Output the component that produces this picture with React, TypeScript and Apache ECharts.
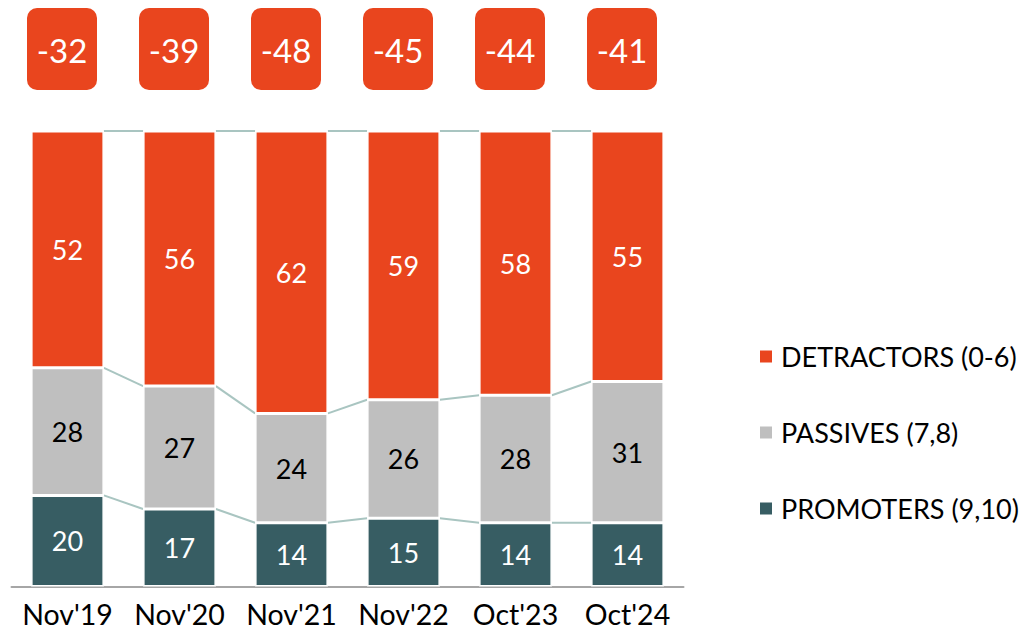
import React, { useEffect, useRef } from "react";
import * as echarts from "echarts";

const categories = ["Nov'19", "Nov'20", "Nov'21", "Nov'22", "Oct'23", "Oct'24"];
const promoters = [20, 17, 14, 15, 14, 14];
const passives = [28, 27, 24, 26, 28, 31];
const detractors = [52, 56, 62, 59, 58, 55];
const npsScores = [-32, -39, -48, -45, -44, -41];
const seriesNames = ["DETRACTORS (0-6)", "PASSIVES (7,8)", "PROMOTERS (9,10)"];

const ORANGE = "#E9451E";
const GREY = "#BFBFBF";
const TEAL = "#375D63";
const LINK = "#A9C5C1";
const FONT = "Lato";
const BAR_RATIO = 0.65;

export default function App() {
  const ref = useRef<HTMLDivElement>(null);
  useEffect(() => {
    document.body.style.margin = "0";
    const chart = echarts.init(ref.current!, null, { renderer: "svg" });

    const connectorData: number[][] = [];
    for (let i = 0; i < categories.length - 1; i++) {
      connectorData.push([i, promoters[i], promoters[i + 1]]);
      connectorData.push([i, promoters[i] + passives[i], promoters[i + 1] + passives[i + 1]]);
      connectorData.push([
        i,
        promoters[i] + passives[i] + detractors[i],
        promoters[i + 1] + passives[i + 1] + detractors[i + 1],
      ]);
    }

    const barBase = {
      type: "bar",
      stack: "total",
      barWidth: "65%",
      itemStyle: { borderColor: "#ffffff", borderWidth: 1.5 },
      label: { show: true, position: "inside", fontFamily: FONT, fontSize: 27 },
    };

    chart.setOption({
      animation: false,
      textStyle: { fontFamily: FONT },
      grid: { left: 11.5, right: 349.5, top: 131, bottom: 44.5, containLabel: false },
      legend: {
        data: seriesNames,
        orient: "vertical",
        left: 753,
        top: 338,
        itemWidth: 14,
        itemHeight: 14,
        itemGap: 49,
        icon: "rect",
        textStyle: {
          fontFamily: FONT,
          fontSize: 27,
          color: "#000",
          lineHeight: 27,
          padding: [0, 0, 0, 3],
        },
      },
      xAxis: {
        type: "category",
        data: categories,
        axisLine: { lineStyle: { color: "#A6A6A6", width: 2 } },
        axisTick: { show: false },
        axisLabel: {
          interval: 0,
          hideOverlap: false,
          color: "#000",
          fontFamily: FONT,
          fontSize: 28.5,
          margin: 13,
        },
      },
      yAxis: {
        type: "value",
        min: 0,
        max: 100,
        show: false,
        splitLine: { show: false },
      },
      series: [
        {
          ...barBase,
          name: seriesNames[2],
          data: promoters,
          itemStyle: { ...barBase.itemStyle, color: TEAL },
          label: { ...barBase.label, color: "#fff" },
        },
        {
          ...barBase,
          name: seriesNames[1],
          data: passives,
          itemStyle: { ...barBase.itemStyle, color: GREY },
          label: { ...barBase.label, color: "#000" },
        },
        {
          ...barBase,
          name: seriesNames[0],
          data: detractors,
          itemStyle: { ...barBase.itemStyle, color: ORANGE },
          label: { ...barBase.label, color: "#fff" },
        },
        {
          type: "custom",
          name: "connectors",
          clip: false,
          silent: true,
          data: connectorData,
          renderItem: (params: any, api: any) => {
            const i = api.value(0);
            const p1 = api.coord([i, api.value(1)]);
            const p2 = api.coord([i + 1, api.value(2)]);
            const hw = (api.size([1, 0])[0] * BAR_RATIO) / 2;
            return {
              type: "line",
              shape: { x1: p1[0] + hw, y1: p1[1], x2: p2[0] - hw, y2: p2[1] },
              style: { stroke: LINK, lineWidth: 2 },
            };
          },
        },
        {
          type: "custom",
          name: "nps",
          clip: false,
          silent: true,
          data: npsScores.map((v, i) => [i, v]),
          renderItem: (params: any, api: any) => {
            const i = api.value(0);
            const v = api.value(1);
            const c = api.coord([i, 100]);
            const cx = c[0] - 5.5;
            return {
              type: "group",
              children: [
                {
                  type: "rect",
                  shape: { x: cx - 35, y: 8, width: 70, height: 82, r: 10 },
                  style: { fill: ORANGE },
                },
                {
                  type: "text",
                  x: cx,
                  y: 50,
                  style: {
                    text: String(v),
                    fill: "#fff",
                    fontFamily: FONT,
                    fontSize: 33,
                    align: "center",
                    verticalAlign: "middle",
                  },
                },
              ],
            };
          },
        },
      ],
    });
    return () => chart.dispose();
  }, []);
  return <div ref={ref} style={{ width: 1033, height: 631 }} />;
}
